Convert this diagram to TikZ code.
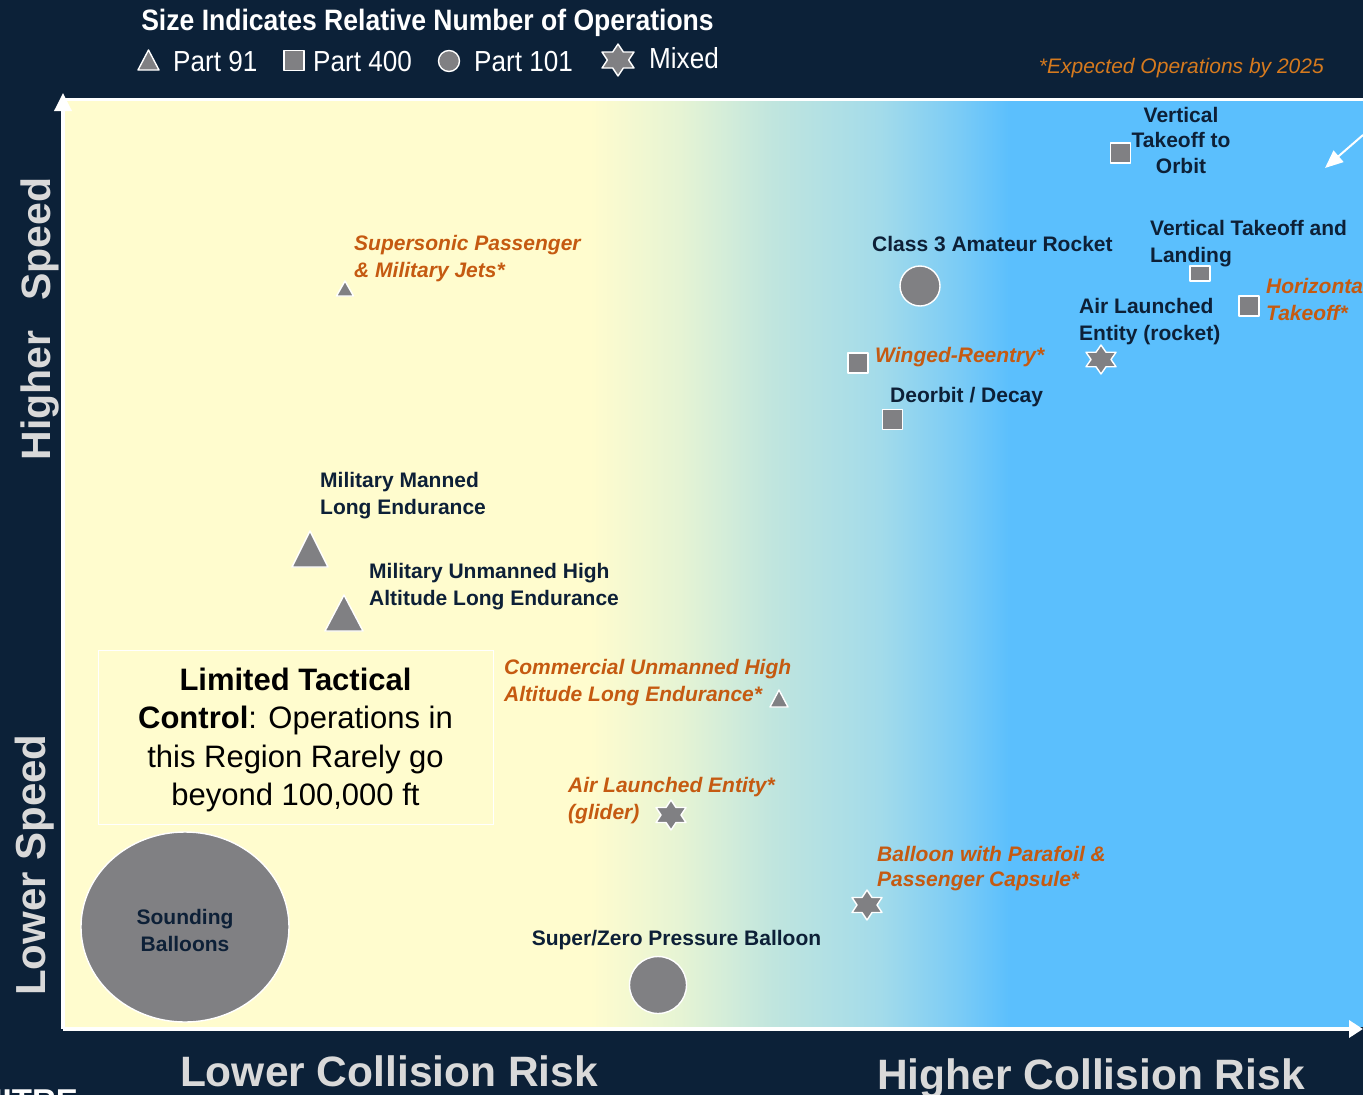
\documentclass[tikz,border=0pt]{standalone}
\usepackage{fontspec}
\setmainfont{Liberation Sans}
\newfontfamily\hdrfont[FakeStretch=0.9]{Liberation Sans}
\usetikzlibrary{arrows.meta,shapes.geometric}

\definecolor{navybg}{RGB}{12,33,56}
\definecolor{navytxt}{RGB}{13,32,55}
\definecolor{rust}{RGB}{197,90,17}
\definecolor{amber}{RGB}{214,122,30}
\definecolor{mkgray}{RGB}{128,128,131}
\definecolor{paleyel}{RGB}{255,252,206}
\definecolor{skyblue}{RGB}{91,191,253}
\definecolor{axisgray}{RGB}{217,217,217}
\definecolor{gA}{RGB}{230,244,212}
\definecolor{gB}{RGB}{192,229,222}
\definecolor{gC}{RGB}{163,219,234}
\definecolor{gD}{RGB}{122,203,246}

% collision-risk background ramp (yellow to sky blue)
\pgfdeclarehorizontalshading{riskshade}{100bp}{%
  color(0bp)=(paleyel); color(25bp)=(paleyel); color(35.7bp)=(gA);
  color(46.8bp)=(gB); color(59.5bp)=(gC); color(69bp)=(gD);
  color(75bp)=(skyblue); color(100bp)=(skyblue)}

\begin{document}
\begin{tikzpicture}[x=1pt,y=-1pt,
  mk/.style={fill=mkgray, draw=white, line width=1.4pt, line join=round},
  pics/trimark/.style 2 args={code={\filldraw[mk] (-#1/2,0) -- (0,-#2) -- (#1/2,0) -- cycle;}},
  pics/sqmark/.style 2 args={code={\filldraw[mk] (-#1/2,-#2/2) rectangle (#1/2,#2/2);}},
  pics/starmark/.style 2 args={code={\filldraw[mk]
      (0,-#2/2) -- (#1/6,-#2/4) -- (#1/2,-#2/4) -- (#1/3,0) -- (#1/2,#2/4) -- (#1/6,#2/4)
      -- (0,#2/2) -- (-#1/6,#2/4) -- (-#1/2,#2/4) -- (-#1/3,0) -- (-#1/2,-#2/4) -- (-#1/6,-#2/4) -- cycle;}},
  dot/.style={mk, circle, inner sep=0pt, minimum size=#1},
  lab/.style={text=navytxt, font=\bfseries\fontsize{21}{27.5}\selectfont, align=left, inner sep=0pt, anchor=north west},
  olab/.style={lab, text=rust, font=\bfseries\itshape\fontsize{21}{27}\selectfont},
  leg/.style={text=white, font=\hdrfont\fontsize{29}{34}\selectfont, inner sep=0pt, anchor=base west},
  axislab/.style={text=axisgray, font=\bfseries\fontsize{42.5}{50}\selectfont, inner sep=0pt, anchor=base},
  axisline/.style={white, line width=3.5pt}
]
\useasboundingbox (0,0) rectangle (1363,1095);
\fill[navybg] (0,0) rectangle (1363,1095);

% plot area
\fill[paleyel] (64,101) rectangle (590.5,1027);
\shade[shading=riskshade] (590,101) rectangle (1010,1027);
\fill[skyblue] (1009.5,101) rectangle (1363,1027);

% axes
\coordinate (org) at (63,1029);
\coordinate (ytip) at (63,93);
\coordinate (xtip) at (1363,1029);
\coordinate (topl) at (63,99.5);
\coordinate (topr) at (1363,99.5);
\draw[axisline] (topl) -- (topr);
\draw[axisline, -{Triangle[length=18pt,width=17pt]}] (org) -- (ytip);
\draw[axisline, -{Triangle[length=14pt,width=17pt]}] (org) -- (xtip);

% pointer in the upper right corner
\coordinate (ptrfrom) at (1363,135);
\coordinate (ptrto) at (1325,168);
\draw[white, line width=2pt, -{Triangle[length=18pt,width=15pt]}] (ptrfrom) -- (ptrto);

% header and legend
\node[anchor=base, text=white, font=\hdrfont\bfseries\fontsize{29.5}{35}\selectfont, inner sep=0pt] (title) at (427.5,30) {Size Indicates Relative Number of Operations};
\pic (lgtri) at (148.5,70) {trimark={21}{20}};
\node[leg] (lg91) at (173,71) {Part 91};
\pic (lgsq) at (294,60.5) {sqmark={20}{20}};
\node[leg] (lg400) at (313,71) {Part 400};
\node[dot=21] (lgdot) at (449,61) {};
\node[leg] (lg101) at (474,71) {Part 101};
\pic (lgstar) at (618,60) {starmark={32}{32}};
\node[leg] (lgmix) at (649,68) {Mixed};
\node[anchor=base east, text=amber, font=\itshape\fontsize{21}{25}\selectfont, inner sep=0pt] (expected) at (1324,73) {*Expected Operations by 2025};

% axis titles
\node[axislab] (xlow) at (389,1086) {Lower Collision Risk};
\node[axislab] (xhigh) at (1091,1089) {Higher Collision Risk};
\node[axislab, rotate=90, font=\bfseries\fontsize{41}{50}\selectfont] (yhigh) at (50,319) {Higher\hspace{30pt}Speed};
\node[axislab, rotate=90, font=\bfseries\fontsize{42}{50}\selectfont] (ylow) at (45,865) {Lower Speed};

% limited tactical control region
\node[draw=white, line width=1pt, fill=paleyel, minimum width=395, minimum height=174, inner sep=0pt] (ltcbox) at (295.5,737) {};
\node[anchor=north, align=center, inner sep=0pt, text=black, font=\fontsize{31}{38.5}\selectfont] (ltctext) at (295.5,667.5)
  {\textbf{Limited Tactical}\\\textbf{Control}: Operations in\\this Region Rarely go\\beyond 100,000 ft};

% Part 101 balloons and rockets
\node[mk, ellipse, minimum width=208, minimum height=190, inner sep=0pt] (sounding) at (185,927) {};
\node[lab, anchor=center, align=center, font=\bfseries\fontsize{21}{27}\selectfont] (soundinglab) at (185,930.5) {Sounding\\Balloons};
\node[dot=57] (szpb) at (658,985) {};
\node[lab, anchor=north] (szpblab) at (676.5,930) {Super/Zero Pressure Balloon};
\node[dot=40] (class3) at (920,286) {};
\node[lab] (class3lab) at (872,236) {Class 3 Amateur Rocket};

% Part 400 launch and reentry
\pic (vto) at (1120.5,153) {sqmark={20}{20}};
\node[lab, anchor=north, align=center, font=\bfseries\fontsize{21}{25.5}\selectfont] (vtolab) at (1181,107) {Vertical\\Takeoff to\\Orbit};
\pic (vtol) at (1200,273.5) {sqmark={20}{15}};
\node[lab] (vtollab) at (1150,220) {Vertical Takeoff and\\Landing};
\pic (htol) at (1249,306) {sqmark={20}{20}};
\node[olab] (htollab) at (1266,278) {Horizontal\\Takeoff*};
\pic (winged) at (858,363) {sqmark={20}{20}};
\node[olab] (wingedlab) at (875,347) {Winged-Reentry*};
\pic (deorbit) at (892.5,419.5) {sqmark={20}{20}};
\node[lab] (deorbitlab) at (890,387) {Deorbit / Decay};

% mixed
\pic (alr) at (1101,359.5) {starmark={30}{29}};
\node[lab] (alrlab) at (1079,298) {Air Launched\\Entity (rocket)};
\pic (alg) at (671,815) {starmark={30}{30}};
\node[olab] (alglab) at (568,777) {Air Launched Entity*\\(glider)};
\pic (bpc) at (867,905) {starmark={30}{30}};
\node[olab, font=\bfseries\itshape\fontsize{21}{25}\selectfont] (bpclab) at (877,846) {Balloon with Parafoil \&\\Passenger Capsule*};

% Part 91 aircraft
\pic (ssj) at (345,296) {trimark={17}{15}};
\node[olab] (ssjlab) at (354,235.5) {Supersonic Passenger\\\& Military Jets*};
\pic (mmle) at (310,567) {trimark={36}{36}};
\node[lab] (mmlelab) at (320,472) {Military Manned\\Long Endurance};
\pic (muhale) at (344,631) {trimark={38}{36}};
\node[lab] (muhalelab) at (369,563) {Military Unmanned High\\Altitude Long Endurance};
\pic (cuhale) at (779,707) {trimark={18}{17}};
\node[olab] (cuhalelab) at (504,659.5) {Commercial Unmanned High\\Altitude Long Endurance*};

% logo at the lower edge
\begin{scope}
  \clip (0,0) rectangle (1363,1095);
  \node[anchor=base west, text=white, font=\bfseries\fontsize{33}{40}\selectfont, inner sep=0pt] (logo) at (-25,1112) {MITRE};
\end{scope}
\end{tikzpicture}
\end{document}
